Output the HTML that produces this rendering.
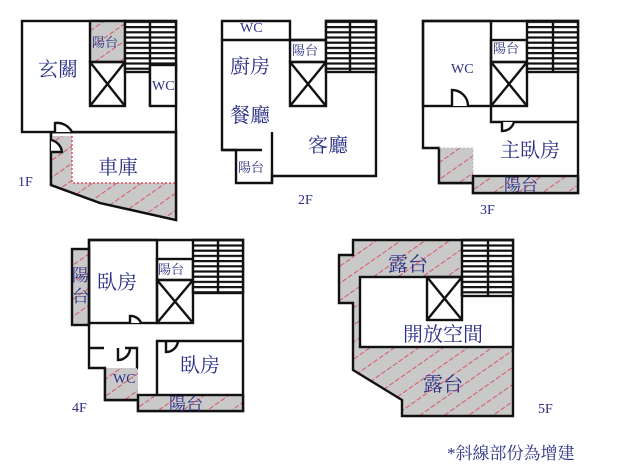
<!DOCTYPE html>
<html><head><meta charset="utf-8"><style>
html,body{margin:0;padding:0;background:#fff;}
svg{display:block}
text{font-family:"Liberation Serif","Noto Serif CJK SC",serif;fill:#2a2f85;}
</style></head><body>
<svg width="640" height="470" viewBox="0 0 640 470" xmlns="http://www.w3.org/2000/svg">
<defs>
<pattern id="h" width="14" height="14" patternUnits="userSpaceOnUse" patternTransform="rotate(-35)">
<rect width="14" height="14" fill="#c9c9c9"/>
<line x1="0" y1="7" x2="14" y2="7" stroke="#e03040" stroke-width="0.8" stroke-dasharray="5 2"/>
</pattern>
<pattern id="st" width="10" height="5.2" patternUnits="userSpaceOnUse">
<rect width="10" height="5.2" fill="#fff"/>
<rect y="0" width="10" height="2.2" fill="#111"/>
</pattern>
</defs>
<g stroke="#111" stroke-width="2.4" fill="none">
<!-- 1F -->
<polygon points="51,132 176,132 176,220 100,203 51,185" fill="#fff"/>
<path d="M51,136 H72 V183 H176 V220 L100,203 L51,185 Z" fill="url(#h)" stroke="none"/>
<path d="M72,136 V183 H176" stroke="#e03040" stroke-width="1.2" stroke-dasharray="2 2"/>
<polygon points="51,132 176,132 176,220 100,203 51,185" />
<rect x="22" y="21" width="154" height="111" fill="#fff"/>
<rect x="90" y="21" width="35" height="41" fill="url(#h)"/>
<rect x="90" y="62" width="35" height="44"/>
<path d="M90,62 L125,106 M125,62 L90,106"/>
<rect x="125" y="21" width="51" height="51" fill="url(#st)"/>
<line x1="150" y1="21" x2="150" y2="106"/>
<rect x="150" y="65" width="26" height="41" fill="#fff"/>
<path d="M55,132 V123 A17,17 0 0 1 72,132" fill="#fff"/>
<path d="M51,140 A14,14 0 0 1 62,152 L51,152" fill="#fff"/>
<!-- 2F -->
<path d="M222,21 H290 V40 H326 V21 H376 V176 H272 V183 H236 V150 H222 Z" fill="#fff"/>
<line x1="222" y1="40" x2="290" y2="40"/>
<rect x="290" y="40" width="36" height="22"/>
<rect x="290" y="62" width="36" height="44"/>
<path d="M290,62 L326,106 M326,62 L290,106"/>
<rect x="326" y="21" width="50" height="51" fill="url(#st)"/>
<line x1="350" y1="21" x2="350" y2="72"/>
<line x1="272" y1="132" x2="272" y2="183"/>
<line x1="222" y1="150" x2="236" y2="150"/>
<line x1="236" y1="150" x2="262" y2="150"/>
<!-- 3F -->
<path d="M423,21 H578 V193 H473 V183 H439 V148 H423 Z" fill="#fff"/>
<rect x="439" y="148" width="34" height="35" fill="url(#h)" stroke="none"/>
<path d="M439,148 V183 H473" />
<path d="M439,148 H473 V176" stroke="#bbb" stroke-width="1" stroke-dasharray="2 2"/>
<rect x="473" y="176" width="105" height="17" fill="url(#h)"/>
<rect x="423" y="21" width="68" height="85"/>
<rect x="491" y="40" width="36" height="22"/>
<rect x="491" y="62" width="36" height="44"/>
<path d="M491,62 L527,106 M527,62 L491,106"/>
<rect x="527" y="21" width="51" height="51" fill="url(#st)"/>
<line x1="553" y1="21" x2="553" y2="72"/>
<path d="M491,106 V122 H578"/>
<path d="M452,106 V90 A16,16 0 0 1 468,106" fill="#fff"/>
<path d="M502,122 V131 A12,12 0 0 0 514,122" fill="#fff"/>
<!-- 4F -->
<path d="M89,240 H243 V392 H243 V411 H138 V400 H105 V368 H89 Z" fill="#fff"/>
<rect x="72" y="249" width="17" height="76" fill="url(#h)"/>
<rect x="105" y="368" width="33" height="32" fill="url(#h)" stroke="none"/>
<path d="M105,368 V400 H138"/>
<rect x="138" y="395" width="105" height="16" fill="url(#h)"/>
<rect x="89" y="240" width="68" height="83"/>
<rect x="157" y="259" width="36" height="21"/>
<rect x="157" y="280" width="36" height="43"/>
<path d="M157,280 L193,323 M193,280 L157,323"/>
<rect x="193" y="240" width="50" height="53" fill="url(#st)"/>
<line x1="218" y1="240" x2="218" y2="293"/>
<path d="M243,341 H157 V395"/>
<path d="M89,348 H104 M125,348 H137 V368 M137,368 H138"/>
<path d="M130,323 V316 A11,11 0 0 1 141,323" fill="#fff"/>
<path d="M118,348 V360 A12,12 0 0 0 130,348"/>
<path d="M166,341 V352 A12,12 0 0 0 178,341"/>
<!-- 5F -->
<polygon points="353,240 513,240 513,416 402,416 402,400 353,370 353,303 339,303 339,255 353,255" fill="url(#h)"/>
<rect x="360" y="277" width="153" height="70" fill="#fff"/>
<rect x="427" y="277" width="35" height="43"/>
<path d="M427,277 L462,320 M462,277 L427,320"/>
<rect x="462" y="240" width="51" height="56" fill="url(#st)"/>
<line x1="488" y1="240" x2="488" y2="296"/>
<line x1="462" y1="277" x2="462" y2="296"/>
</g>
<g font-size="20">
<text x="38" y="76">玄關</text>
<text x="98" y="174">車庫</text>
<text x="230" y="73">廚房</text>
<text x="230" y="122">餐廳</text>
<text x="308" y="152">客廳</text>
<text x="500" y="157">主臥房</text>
<text x="97" y="289">臥房</text>
<text x="180" y="372">臥房</text>
<text x="388" y="271">露台</text>
<text x="403" y="341">開放空間</text>
<text x="423" y="391">露台</text>
</g>
<g font-size="13">
<text x="92" y="47">陽台</text>
<text x="292" y="55">陽台</text>
<text x="238" y="172">陽台</text>
<text x="493" y="53">陽台</text>
<text x="158" y="274">陽台</text>
</g>
<g font-size="17">
<text x="504" y="191">陽台</text>
<text x="169" y="410">陽台</text>
<text x="72" y="281">陽</text>
<text x="72" y="302">台</text>
</g>
<g font-size="14">
<text x="152" y="90">WC</text>
<text x="240" y="32">WC</text>
<text x="451" y="73">WC</text>
<text x="113" y="383">WC</text>
<text x="18" y="186">1F</text>
<text x="298" y="204">2F</text>
<text x="480" y="214">3F</text>
<text x="72" y="412">4F</text>
<text x="538" y="413">5F</text>
</g>
<text x="447" y="459" font-size="17">*斜線部份為增建</text>
</svg>
</body></html>
